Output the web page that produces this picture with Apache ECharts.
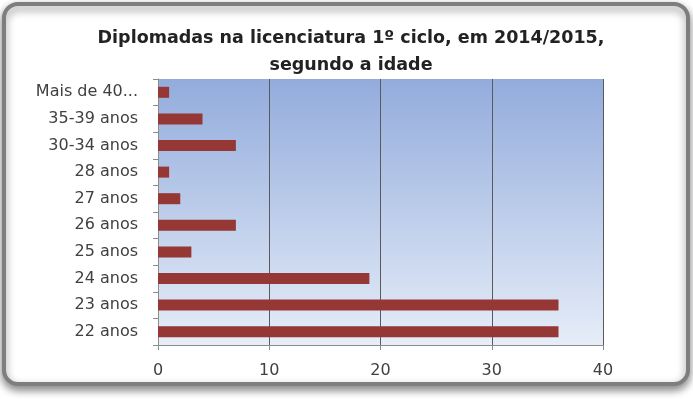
<!DOCTYPE html>
<html><head><meta charset="utf-8">
<script src="https://cdn.jsdelivr.net/npm/echarts@6/dist/echarts.min.js"></script>
<style>html,body{margin:0;padding:0;background:#fff;}#c{width:693px;height:399px;}</style>
</head><body><div id="c"></div>
<script>
const categories = ["22 anos","23 anos","24 anos","25 anos","26 anos","27 anos","28 anos","30-34 anos","35-39 anos","Mais de 40..."];
const values = [36, 36, 19, 3, 7, 2, 1, 7, 4, 1];
const xTicks = [0, 10, 20, 30, 40];
const titleText = "Diplomadas na licenciatura 1º ciclo, em 2014/2015,\nsegundo a idade";

const chart = echarts.init(document.getElementById('c'), null, {renderer:'canvas'});
chart.setOption({
  animation:false,
  backgroundColor:'#fff',
  graphic:[{
    type:'rect', z:-10, silent:true,
    shape:{x:4, y:4, width:684, height:380, r:14},
    style:{fill:'#fff', stroke:'#7e7e7e', lineWidth:4, shadowBlur:8, shadowOffsetY:4, shadowColor:'rgba(0,0,0,0.45)'}
  }],
  title:{
    text:titleText, left:346, top:20, textAlign:'center',
    textStyle:{fontFamily:'DejaVu Sans', fontWeight:'bold', fontSize:17.5, lineHeight:27, color:'#222'}
  },
  grid:{left:158, right:90, top:79, bottom:54,
    show:true, borderWidth:0,
    backgroundColor:{type:'linear', x:0, y:0, x2:0, y2:1, colorStops:[{offset:0,color:'#93acdc'},{offset:1,color:'#e6edf8'}]}},
  xAxis:{type:'value', min:xTicks[0], max:xTicks[xTicks.length-1], interval:10,
    axisLine:{show:true, lineStyle:{color:'#8c8c8c', width:1}},
    axisTick:{show:true, length:5, lineStyle:{color:'#8c8c8c'}},
    axisLabel:{fontFamily:'DejaVu Sans', fontSize:16, color:'#404040', margin:18},
    splitLine:{show:true, lineStyle:{color:'#5a5a5a', width:1}}
  },
  yAxis:{type:'category', data:categories,
    axisLine:{show:true, lineStyle:{color:'#8c8c8c', width:1}},
    axisTick:{show:true, length:5, lineStyle:{color:'#8c8c8c'}},
    axisLabel:{fontFamily:'DejaVu Sans', fontSize:16, color:'#404040', margin:20}
  },
  series:[{type:'bar', data:values, barWidth:11,
    itemStyle:{color:'#953735'}}]
});
</script></body></html>
